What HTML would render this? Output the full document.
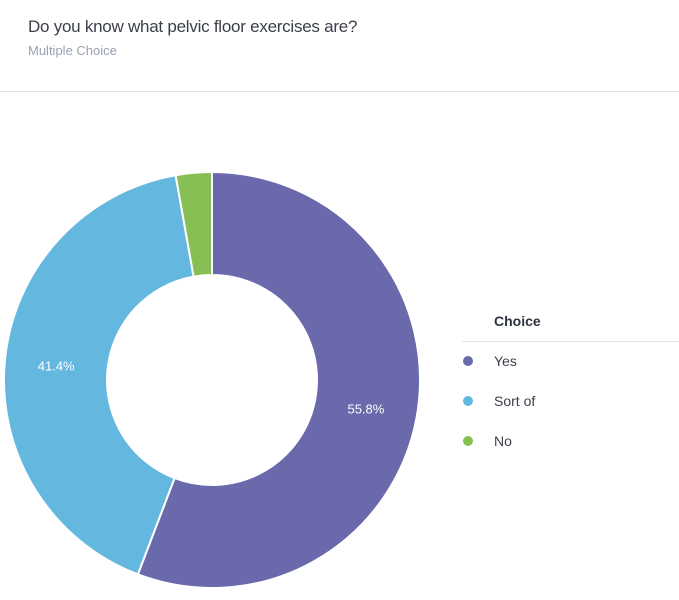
<!DOCTYPE html>
<html><head><meta charset="utf-8"><style>
body{margin:0;width:679px;height:600px;background:#fff;font-family:"Liberation Sans",sans-serif;overflow:hidden;position:relative}
#title{position:absolute;left:28px;top:17px;font-size:17px;letter-spacing:-0.25px;color:#3a3f4b}
#sub{position:absolute;left:28px;top:43px;font-size:13px;color:#9aa0b4}
#hr{position:absolute;left:0;top:91px;width:679px;height:1px;background:#e3e3e3}
svg{position:absolute;left:0;top:0}
</style></head><body>
<div id="title">Do you know what pelvic floor exercises are?</div>
<div id="sub">Multiple Choice</div>
<div id="hr"></div>
<svg id="chart" width="679" height="600"></svg>
<script>
const categories=["Yes","Sort of","No"];
const values=[55.8,41.4,2.8];
const colors=["#6a69ab","#64b8e0","#86bf53"];
const svg=document.getElementById('chart');
const NS="http://www.w3.org/2000/svg";
const cx=212,cy=380,R=208,r=105;
const total=values.reduce((a,b)=>a+b,0);
function pt(a,rad){return [cx+rad*Math.sin(a),cy-rad*Math.cos(a)];}
let start=0;
values.forEach((v,i)=>{
  const ang=v/total*2*Math.PI,end=start+ang,large=ang>Math.PI?1:0;
  const [x1,y1]=pt(start,R),[x2,y2]=pt(end,R),[x3,y3]=pt(end,r),[x4,y4]=pt(start,r);
  const p=document.createElementNS(NS,'path');
  p.setAttribute('d',`M${x1},${y1}A${R},${R} 0 ${large} 1 ${x2},${y2}L${x3},${y3}A${r},${r} 0 ${large} 0 ${x4},${y4}Z`);
  p.setAttribute('fill',colors[i]);p.setAttribute('stroke','#fff');p.setAttribute('stroke-width','2');
  
  
  svg.appendChild(p);
  if(v/total>0.05){
    const [lx,ly]=pt(start+ang/2,(R+r)/2);
    const t=document.createElementNS(NS,'text');
    t.setAttribute('x',lx);t.setAttribute('y',ly+5);t.setAttribute('text-anchor','middle');
    t.setAttribute('fill','#fff');t.setAttribute('font-size','13');
    t.textContent=v.toFixed(1)+'%';
    
    
    svg.appendChild(t);
  }
  start=end;
});
const h=document.createElementNS(NS,'text');
h.setAttribute('x',494);h.setAttribute('y',326);h.setAttribute('font-size','14');h.setAttribute('font-weight','bold');h.setAttribute('fill','#2e3340');
h.textContent='Choice';


svg.appendChild(h);
const ln=document.createElementNS(NS,'rect');
ln.setAttribute('x',462);ln.setAttribute('y',341);ln.setAttribute('width',217);ln.setAttribute('height',1);ln.setAttribute('fill','#e3e3e3');


svg.appendChild(ln);
categories.forEach((c,i)=>{
  const g=document.createElementNS(NS,'g');
  
  
  const y=361+i*40;
  const d=document.createElementNS(NS,'circle');
  d.setAttribute('cx',468);d.setAttribute('cy',y);d.setAttribute('r',5);d.setAttribute('fill',colors[i]);
  g.appendChild(d);
  const t=document.createElementNS(NS,'text');
  t.setAttribute('x',494);t.setAttribute('y',y+5);t.setAttribute('font-size','14');t.setAttribute('fill','#3a3f4b');
  t.textContent=c;g.appendChild(t);
  svg.appendChild(g);
});
</script>
</body></html>
